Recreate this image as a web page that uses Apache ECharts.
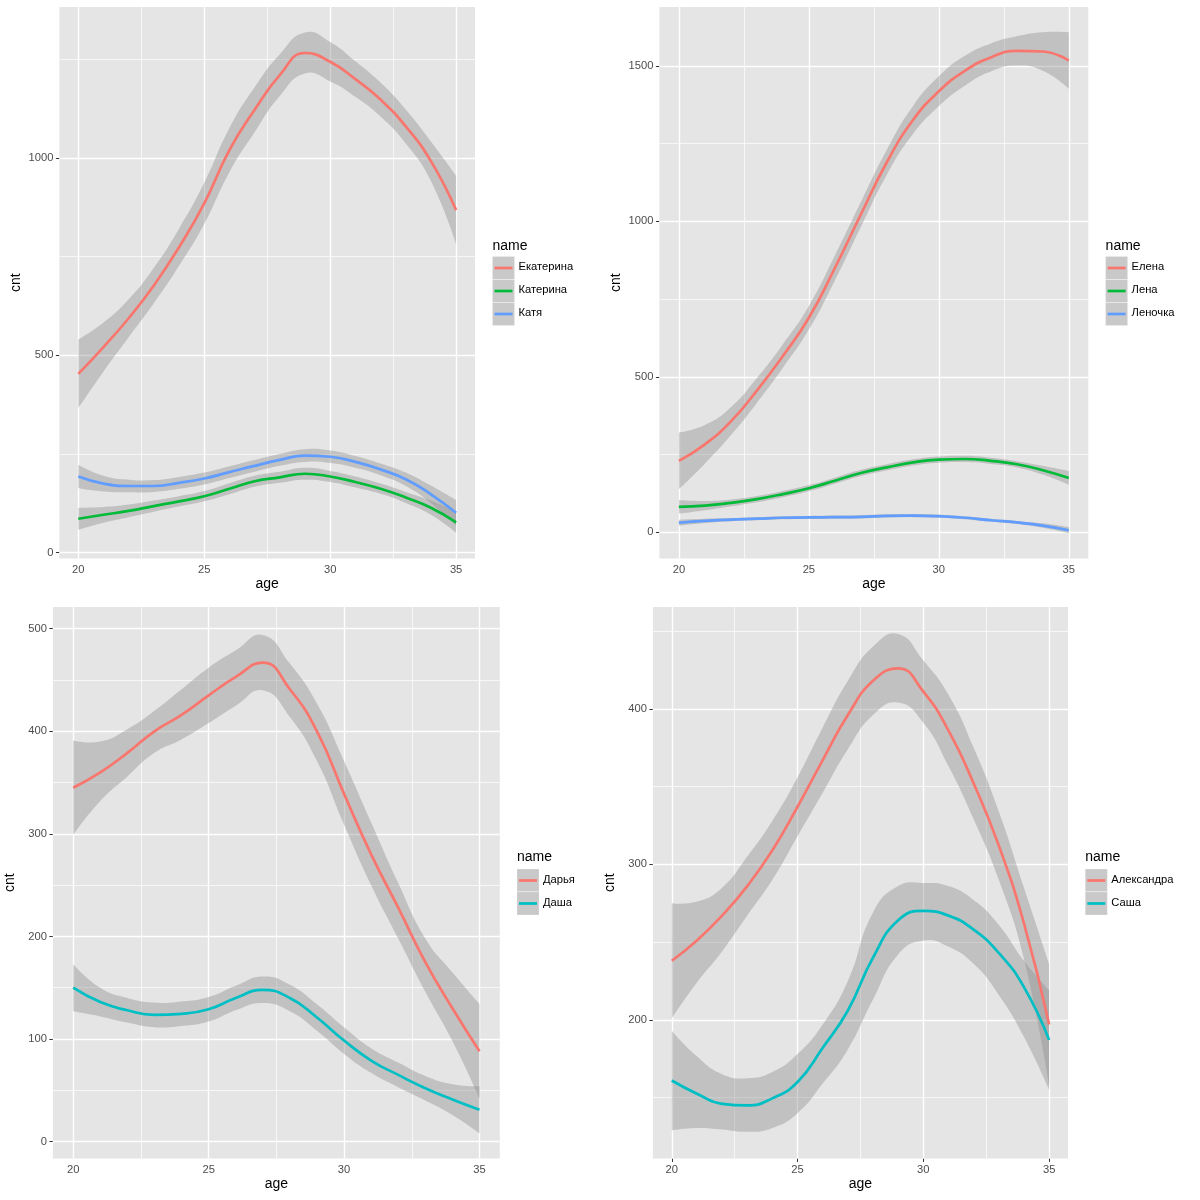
<!DOCTYPE html>
<html><head><meta charset="utf-8">
<script src="https://cdn.jsdelivr.net/npm/echarts@6/dist/echarts.min.js"></script>
<style>html,body{margin:0;padding:0;background:#fff}#c{width:1200px;height:1200px}</style>
</head><body><div id="c"></div>
<script>
// ---------- data ----------
const ages = [20,21,22,23,24,25,26,27,28,29,30,31,32,33,34,35];
const xMajor = [20,25,30,35];
const xMinor = [22.5,27.5,32.5];

// panel 1
const p1Names = ['Екатерина','Катерина','Катя'];
const ekaterinaFit   = [453,521,594,677,774,885,1020,1122,1210,1266,1244,1200,1148,1080,992,868];
const ekaterinaUpper = [540,583,642,722,821,937,1076,1179,1263,1318,1294,1245,1191,1123,1042,955];
const ekaterinaLower = [366,459,546,632,727,833,964,1065,1157,1214,1194,1155,1105,1037,942,781];
const katerinaFit    = [86,96,106,118,130,143,162,181,191,200,193,179,162,140,114,77];
const katerinaUpper  = [114,116,122,132,143,156,176,195,205,215,207,193,175,154,132,104];
const katerinaLower  = [58,76,90,104,117,130,148,167,177,185,179,165,149,126,96,50];
const katyaFit       = [193,175,169,169,177,188,204,220,235,246,243,230,211,186,148,101];
const katyaUpper     = [223,195,185,184,192,203,219,235,250,262,259,245,226,203,170,133];
const katyaLower     = [163,155,153,154,162,173,189,205,220,230,227,215,196,169,126,69];
const p1YMajor = [0,500,1000];
const p1YMinor = [250,750,1250];

// panel 2
const p2Names = ['Елена','Лена','Леночка'];
const elenaFit    = [230,283,357,456,567,690,850,1022,1190,1325,1418,1484,1527,1548,1546,1517];
const elenaUpper  = [321,345,402,496,605,728,890,1062,1230,1370,1466,1532,1572,1595,1608,1608];
const elenaLower  = [139,221,312,416,529,652,810,982,1150,1280,1370,1436,1482,1501,1484,1426];
const lenaFit     = [82,86,95,107,123,142,166,191,209,225,234,236,230,219,200,175];
const lenaUpper   = [104,101,106,117,133,152,176,201,219,235,244,246,240,229,214,197];
const lenaLower   = [60,71,84,97,113,132,156,181,199,215,224,226,220,209,186,153];
const lenochkaFit   = [31,37,41,44,47,48,49,50,53,54,52,47,39,32,22,7];
const lenochkaUpper = [41,44,46,49,52,53,54,55,58,59,57,52,44,37,29,17];
const lenochkaLower = [21,30,36,39,42,43,44,45,48,49,47,42,34,27,15,-3];
const p2YMajor = [0,500,1000,1500];
const p2YMinor = [250,750,1250];

// panel 3
const p3Names = ['Дарья','Даша'];
const daryaFit   = [345,360,379,400,416,435,453,467,441,400,339,280,228,175,130,88];
const daryaUpper = [391,390,402,420,441,462,479,494,466,427,371,311,252,198,165,134];
const daryaLower = [299,332,356,379,392,408,425,440,414,371,309,250,198,146,98,42];
const dashaFit   = [150,136,128,123.5,124.6,129,140,148,140,121,98.5,79,65,52,41,31];
const dashaUpper = [173,150,140,135.5,136.6,141,152,161,153,134,111.5,91,77,64,56,54];
const dashaLower = [127,122,116,111.5,112.6,117,128,135,127,108,85.5,67,53,40,26,8];
const p3YMajor = [0,100,200,300,400,500];
const p3YMinor = [50,150,250,350,450];

// panel 4
const p4Names = ['Александра','Саша'];
const aleksandraFit   = [238,251,267,286,309,337,367,396,418,426,411,386,352,312,262,197];
const aleksandraUpper = [275,276,285,305,328,356,388,418,440,448,431,409,375,334,285,236];
const aleksandraLower = [201,224,244,267,290,318,346,374,396,404,391,363,329,290,239,158];
const sashaFit   = [161,152.5,146,145,149.5,160,182,206,240,264,270,267,258,243,221,187];
const sashaUpper = [193,176.5,165,162.5,166.5,178,197,225,269,286,288,286,277,261,238,219];
const sashaLower = [129,130.5,129.5,128,130.5,140,159,181,213,242,251,247,236,216,189,155];
const p4YMajor = [200,300,400];
const p4YMinor = [150,250,350,450];

const hue3 = ['#F8766D','#00BA38','#619CFF'];
const hue2 = ['#F8766D','#00BFC4'];

const panels = [
  {names:p1Names, colors:hue3, fits:[ekaterinaFit,katerinaFit,katyaFit], uppers:[ekaterinaUpper,katerinaUpper,katyaUpper], lowers:[ekaterinaLower,katerinaLower,katyaLower], yMin:-14.5, yMax:1382.6, yMajor:p1YMajor, yMinor:p1YMinor},
  {names:p2Names, colors:hue3, fits:[elenaFit,lenaFit,lenochkaFit], uppers:[elenaUpper,lenaUpper,lenochkaUpper], lowers:[elenaLower,lenaLower,lenochkaLower], yMin:-83.6, yMax:1689, yMajor:p2YMajor, yMinor:p2YMinor},
  {names:p3Names, colors:hue2, fits:[daryaFit,dashaFit], uppers:[daryaUpper,dashaUpper], lowers:[daryaLower,dashaLower], yMin:-16.4, yMax:521.3, yMajor:p3YMajor, yMinor:p3YMinor},
  {names:p4Names, colors:hue2, fits:[aleksandraFit,sashaFit], uppers:[aleksandraUpper,sashaUpper], lowers:[aleksandraLower,sashaLower], yMin:110.9, yMax:465.5, yMajor:p4YMajor, yMinor:p4YMinor}
];

// ---------- layout ----------
const layout = [
  {left:59.4, top:7, width:415.6, height:551.4, legX:492.5, legTitleY:247, keyTop:256.5},
  {left:659.4, top:7, width:428.9, height:551.4, legX:1105.6, legTitleY:247, keyTop:256.5},
  {left:52.9, top:606.9, width:446.9, height:551.5, legX:517, legTitleY:858.5, keyTop:869},
  {left:652.9, top:606.9, width:415.1, height:551.5, legX:1085.3, legTitleY:858.5, keyTop:869}
];

const FONT = '"Liberation Sans", Arial, Helvetica, sans-serif';
const PANEL_BG = '#E5E5E5';
const RIBBON = 'rgba(140,140,140,0.4)';
const SMOOTH = 0.5;

// smooth path through pixel points (same idea as ECharts line smoothing)
function smoothSegs(pts, s) {
  let d = '';
  const n = pts.length;
  const cpOut = [], cpIn = [];
  for (let i = 0; i < n; i++) {
    const p = pts[i];
    if (i === 0 || i === n - 1) { cpOut.push(p); cpIn.push(p); continue; }
    const a = pts[i - 1], b = pts[i + 1];
    const vx = b[0] - a[0], vy = b[1] - a[1];
    const d1 = Math.hypot(p[0] - a[0], p[1] - a[1]);
    const d2 = Math.hypot(b[0] - p[0], b[1] - p[1]);
    const sum = d1 + d2 || 1;
    cpIn.push([p[0] - vx * s * d1 / sum, p[1] - vy * s * d1 / sum]);
    cpOut.push([p[0] + vx * s * d2 / sum, p[1] + vy * s * d2 / sum]);
  }
  for (let i = 1; i < n; i++) {
    const c1 = cpOut[i - 1], c2 = cpIn[i], p = pts[i];
    d += ' C' + c1[0] + ' ' + c1[1] + ' ' + c2[0] + ' ' + c2[1] + ' ' + p[0] + ' ' + p[1];
  }
  return d;
}

function ribbonRenderer(lower, upper) {
  return function (params, api) {
    if (params.dataIndex !== 0) return null;
    const up = ages.map((a, k) => api.coord([a, upper[k]]));
    const lo = ages.map((a, k) => api.coord([a, lower[k]])).reverse();
    const d = 'M' + up[0][0] + ' ' + up[0][1] + smoothSegs(up, SMOOTH) +
              ' L' + lo[0][0] + ' ' + lo[0][1] + smoothSegs(lo, SMOOTH) + ' Z';
    return {type:'path', shape:{pathData:d}, style:{fill:RIBBON}, silent:true};
  };
}

const option = {animation:false, grid:[], xAxis:[], yAxis:[], series:[], graphic:[]};

panels.forEach((p, i) => {
  const L = layout[i];
  option.grid.push({left:L.left, top:L.top, width:L.width, height:L.height, show:true, backgroundColor:PANEL_BG, borderWidth:0, containLabel:false});
  option.xAxis.push({
    gridIndex:i, type:'value', min:19.25, max:35.75,
    axisLine:{show:false}, splitLine:{show:false},
    axisTick:{show:true, customValues:xMajor, length:3.5, lineStyle:{color:'#333333', width:1}},
    axisLabel:{customValues:xMajor, formatter:v => String(v), color:'#4D4D4D', fontSize:11.2, fontFamily:FONT, margin:6},
    name:'age', nameLocation:'middle', nameGap:19,
    nameTextStyle:{color:'#000', fontSize:14, fontFamily:FONT}
  });
  option.yAxis.push({
    gridIndex:i, type:'value', min:p.yMin, max:p.yMax,
    axisLine:{show:false}, splitLine:{show:false},
    axisTick:{show:true, customValues:p.yMajor, length:3.5, lineStyle:{color:'#333333', width:1}},
    axisLabel:{customValues:p.yMajor, formatter:v => String(v), color:'#4D4D4D', fontSize:11.2, fontFamily:FONT, margin:6},
    name:'cnt', nameLocation:'middle', nameGap:36, nameRotate:90,
    nameTextStyle:{color:'#000', fontSize:14, fontFamily:FONT}
  });
  // panel grid lines
  const ml = [];
  xMinor.forEach(v => ml.push({xAxis:v, lineStyle:{color:'#FFFFFF', width:0.8, opacity:0.85, type:'solid'}}));
  p.yMinor.forEach(v => ml.push({yAxis:v, lineStyle:{color:'#FFFFFF', width:0.8, opacity:0.85, type:'solid'}}));
  xMajor.forEach(v => ml.push({xAxis:v, lineStyle:{color:'#FFFFFF', width:1.4, type:'solid'}}));
  p.yMajor.forEach(v => ml.push({yAxis:v, lineStyle:{color:'#FFFFFF', width:1.4, type:'solid'}}));
  option.series.push({
    type:'line', xAxisIndex:i, yAxisIndex:i, silent:true, symbol:'none',
    data: ages.map((a,k) => [a, p.fits[0][k]]), lineStyle:{opacity:0}, z:1,
    markLine:{silent:true, z:1, symbol:['none','none'], label:{show:false}, animation:false, data:ml}
  });
  p.names.forEach((nm, j) => {
    option.series.push({
      type:'custom', xAxisIndex:i, yAxisIndex:i, silent:true, clip:true, z:2,
      data: ages.map((a,k) => [a, p.lowers[j][k], p.uppers[j][k]]),
      encode:{x:0, y:[1,2]},
      renderItem: ribbonRenderer(p.lowers[j], p.uppers[j])
    });
    option.series.push({
      name:nm, type:'line', xAxisIndex:i, yAxisIndex:i, silent:true, symbol:'none', smooth:SMOOTH,
      data: ages.map((a,k) => [a, p.fits[j][k]]), lineStyle:{color:p.colors[j], width:2.7}, z:2
    });
  });
  // legend (ggplot-like)
  option.graphic.push({type:'text', left:L.legX, top:L.legTitleY - 8, style:{text:'name', fontSize:14, fontFamily:FONT, fill:'#000'}});
  p.names.forEach((nm, j) => {
    const y0 = L.keyTop + j * 23;
    option.graphic.push({type:'rect', shape:{x:L.legX, y:y0, width:22, height:23}, style:{fill:'#F2F2F2', stroke:'#FFFFFF', lineWidth:1}});
    option.graphic.push({type:'rect', shape:{x:L.legX, y:y0, width:22, height:23}, style:{fill:RIBBON}});
    option.graphic.push({type:'line', shape:{x1:L.legX + 2, y1:y0 + 11.5, x2:L.legX + 20, y2:y0 + 11.5}, style:{stroke:p.colors[j], lineWidth:2.7}});
    option.graphic.push({type:'text', left:L.legX + 26, top:y0 + 5, style:{text:nm, fontSize:11.2, fontFamily:FONT, fill:'#000'}});
  });
});

const chart = echarts.init(document.getElementById('c'), null, {renderer:'canvas'});
chart.setOption(option);
</script>
</body></html>
